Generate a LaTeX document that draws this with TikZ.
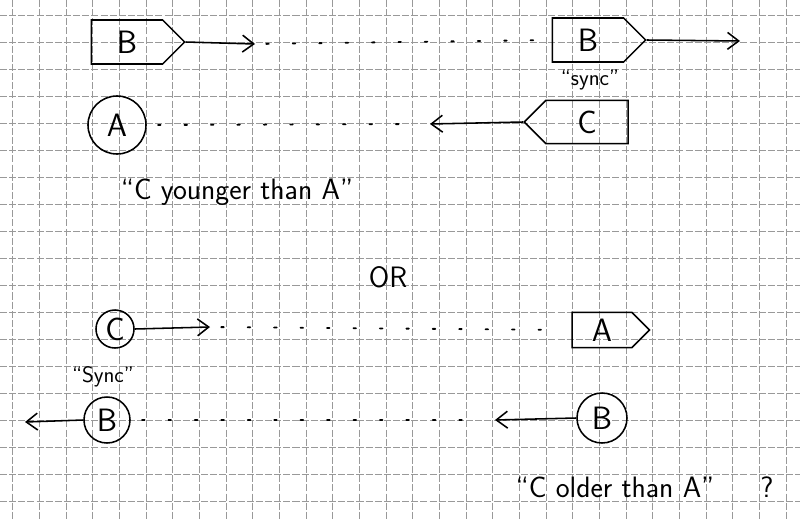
\documentclass[tikz,border=0pt]{standalone}
\usetikzlibrary{arrows.meta,shapes.symbols}
\tikzset{
  gridline/.style={black!40, line width=0.6pt, dash pattern=on 5pt off 1.5pt},
  pen/.style={line width=1.1pt},
  conn/.style={pen, -{Straight Barb[length=8pt,width=12pt]}},
  dots/.style={line width=1.3pt, line cap=round, dash pattern=on 1.8pt off 17pt, shorten <=8pt, shorten >=8pt},
  hand/.style={font=\sffamily\fontsize{21}{25}\selectfont},
  label/.style={font=\sffamily\fontsize{23}{27}\selectfont},
  small/.style={font=\sffamily\fontsize{16}{19}\selectfont},
  tag/.style={pen, draw, shape=signal, inner sep=0pt, label},
  blob/.style={pen, draw, circle, inner sep=0pt, label}
}
\begin{document}
\begin{tikzpicture}[x=0.025cm, y=-0.025cm]
    \useasboundingbox[fill=white] (0,0) rectangle (800,520);
    % grid paper
    \foreach \k in {0,...,29}
        \draw[gridline] ({12.7+26.67*\k},0) -- ++(0,520);
    \foreach \k in {0,...,18}
        \draw[gridline] (0,{15+27.05*\k}) -- ++(800,0);

    % first case
    \node[tag, signal to=east, minimum width=2.33cm, minimum height=1.1cm] (b1) at (127,42) {B};
    \node[tag, signal to=east, minimum width=2.33cm, minimum height=1.1cm] (b2) at (588,40) {B};
    \node[blob, minimum size=1.45cm] (a1) at (117,125) {A};
    \node[tag, signal to=west, minimum width=2.6cm, minimum height=1.08cm] (c1) at (587,122) {C};
    \node[small] (sync1) at (590,80) {``sync''};
    \coordinate (t1) at (255,44);
    \coordinate (t2) at (740,41);
    \coordinate (t3) at (430,124);
    \draw[conn] (b1.east) -- (t1);
    \draw[dots] (t1) -- (b2.west);
    \draw[conn] (b2.east) -- (t2);
    \draw[dots] (a1.east) -- (t3);
    \draw[conn] (c1.west) -- (t3);
    \node[hand] (young) at (237,192) {``C younger than A''};

    \node[hand] (or) at (388,277) {OR};

    % second case
    \node[blob, minimum size=0.95cm] (c2) at (115,329) {C};
    \node[tag, signal to=east, minimum width=1.93cm, minimum height=0.88cm] (a2) at (602,330) {A};
    \node[small] (sync2) at (103,377) {``Sync''};
    \node[blob, minimum size=1.15cm] (b3) at (107,420) {B};
    \node[blob, minimum size=1.25cm] (b4) at (602,418) {B};
    \coordinate (t4) at (210,327);
    \coordinate (t5) at (25,422);
    \coordinate (t6) at (495,420);
    \draw[conn] (c2.east) -- (t4);
    \draw[dots] (t4) -- (a2.west);
    \draw[conn] (b3.west) -- (t5);
    \draw[dots] (b3.east) -- (t6);
    \draw[conn] (b4.west) -- (t6);
    \node[hand] (old) at (615,487) {``C older than A''};
    \node[hand] (ask) at (767,487) {?};
\end{tikzpicture}
\end{document}
